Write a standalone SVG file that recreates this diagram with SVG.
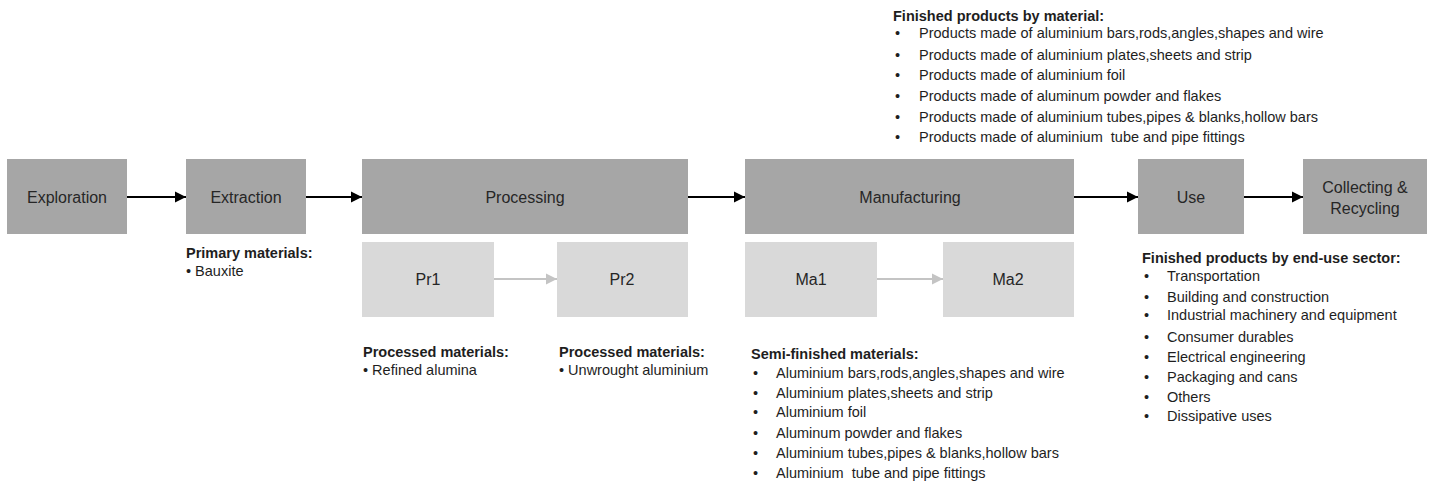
<svg xmlns="http://www.w3.org/2000/svg" width="1429" height="484" viewBox="0 0 1429 484">
<style>
.dk{fill:#a6a6a6}
.lt{fill:#d9d9d9}
.lbl{font-family:"Liberation Sans",Arial,sans-serif;font-size:16px;fill:#262626;text-anchor:middle}
.t{font-family:"Liberation Sans",Arial,sans-serif;font-size:14.5px;fill:#1e1e1e}
.b{font-weight:bold}
.main{stroke:#000;stroke-width:2;fill:none}
.sub{stroke:#c4c4c4;stroke-width:2;fill:none}
</style>
<defs>
<marker id="ah" markerUnits="userSpaceOnUse" markerWidth="12" markerHeight="12" refX="11" refY="6" orient="auto">
<path d="M0,0.5 L11,6 L0,11.5 Z" fill="#000"/>
</marker>
<marker id="ahl" markerUnits="userSpaceOnUse" markerWidth="12" markerHeight="12" refX="11" refY="6" orient="auto">
<path d="M0,0.5 L11,6 L0,11.5 Z" fill="#c4c4c4"/>
</marker>
</defs>
<rect width="1429" height="484" fill="#fff"/>
<g id="connectors">
<line class="main" x1="127" y1="197" x2="186" y2="197" marker-end="url(#ah)"/>
<line class="main" x1="306" y1="197" x2="362" y2="197" marker-end="url(#ah)"/>
<line class="main" x1="688" y1="197" x2="745" y2="197" marker-end="url(#ah)"/>
<line class="main" x1="1074" y1="197" x2="1138" y2="197" marker-end="url(#ah)"/>
<line class="main" x1="1244" y1="197" x2="1303" y2="197" marker-end="url(#ah)"/>
<line class="sub" x1="494" y1="279" x2="557" y2="279" marker-end="url(#ahl)"/>
<line class="sub" x1="877" y1="279" x2="943" y2="279" marker-end="url(#ahl)"/>
</g>
<g id="exploration"><rect class="dk" x="7" y="159" width="120" height="75"/><text class="lbl" x="67" y="203">Exploration</text></g>
<g id="extraction"><rect class="dk" x="186" y="159" width="120" height="75"/><text class="lbl" x="246" y="203">Extraction</text></g>
<g id="processing"><rect class="dk" x="362" y="159" width="326" height="75"/><text class="lbl" x="525" y="203">Processing</text></g>
<g id="manufacturing"><rect class="dk" x="745" y="159" width="329" height="75"/><text class="lbl" x="910" y="203">Manufacturing</text></g>
<g id="use"><rect class="dk" x="1138" y="159" width="106" height="75"/><text class="lbl" x="1191" y="203">Use</text></g>
<g id="recycling"><rect class="dk" x="1303" y="159" width="124" height="75"/><text class="lbl" x="1365" y="193">Collecting &amp;</text><text class="lbl" x="1365" y="214">Recycling</text></g>
<g id="pr1"><rect class="lt" x="362" y="242" width="132" height="75"/><text class="lbl" x="428" y="285">Pr1</text></g>
<g id="pr2"><rect class="lt" x="557" y="242" width="131" height="75"/><text class="lbl" x="622" y="285">Pr2</text></g>
<g id="ma1"><rect class="lt" x="745" y="242" width="132" height="75"/><text class="lbl" x="811" y="285">Ma1</text></g>
<g id="ma2"><rect class="lt" x="943" y="242" width="131" height="75"/><text class="lbl" x="1008" y="285">Ma2</text></g>
<g id="primary-materials">
<text class="t b" x="186" y="258">Primary materials:</text>
<text class="t" x="186" y="276">• Bauxite</text>
</g>
<g id="processed-materials-1">
<text class="t b" x="363" y="357">Processed materials:</text>
<text class="t" x="363" y="375">• Refined alumina</text>
</g>
<g id="processed-materials-2">
<text class="t b" x="559" y="357">Processed materials:</text>
<text class="t" x="559" y="375">• Unwrought aluminium</text>
</g>
<g id="semi-finished">
<text class="t b" x="751" y="359">Semi-finished materials:</text>
<text class="t"><tspan x="753" y="378">•</tspan><tspan x="776" y="378">Aluminium bars,rods,angles,shapes and wire</tspan></text>
<text class="t"><tspan x="753" y="398">•</tspan><tspan x="776" y="398">Aluminium plates,sheets and strip</tspan></text>
<text class="t"><tspan x="753" y="417">•</tspan><tspan x="776" y="417">Aluminium foil</tspan></text>
<text class="t"><tspan x="753" y="438">•</tspan><tspan x="776" y="438">Aluminum powder and flakes</tspan></text>
<text class="t"><tspan x="753" y="458">•</tspan><tspan x="776" y="458">Aluminium tubes,pipes &amp; blanks,hollow bars</tspan></text>
<text class="t"><tspan x="753" y="478">•</tspan><tspan x="776" y="478" xml:space="preserve">Aluminium  tube and pipe fittings</tspan></text>
</g>
<g id="finished-by-material">
<text class="t b" x="893" y="21">Finished products by material:</text>
<text class="t"><tspan x="895" y="38">•</tspan><tspan x="919" y="38">Products made of aluminium bars,rods,angles,shapes and wire</tspan></text>
<text class="t"><tspan x="895" y="60">•</tspan><tspan x="919" y="60">Products made of aluminium plates,sheets and strip</tspan></text>
<text class="t"><tspan x="895" y="80">•</tspan><tspan x="919" y="80">Products made of aluminium foil</tspan></text>
<text class="t"><tspan x="895" y="101">•</tspan><tspan x="919" y="101">Products made of aluminum powder and flakes</tspan></text>
<text class="t"><tspan x="895" y="122">•</tspan><tspan x="919" y="122">Products made of aluminium tubes,pipes &amp; blanks,hollow bars</tspan></text>
<text class="t"><tspan x="895" y="142">•</tspan><tspan x="919" y="142" xml:space="preserve">Products made of aluminium  tube and pipe fittings</tspan></text>
</g>
<g id="finished-by-sector">
<text class="t b" x="1142" y="263">Finished products by end-use sector:</text>
<text class="t"><tspan x="1144" y="281">•</tspan><tspan x="1167" y="281">Transportation</tspan></text>
<text class="t"><tspan x="1144" y="302">•</tspan><tspan x="1167" y="302">Building and construction</tspan></text>
<text class="t"><tspan x="1144" y="320">•</tspan><tspan x="1167" y="320">Industrial machinery and equipment</tspan></text>
<text class="t"><tspan x="1144" y="342">•</tspan><tspan x="1167" y="342">Consumer durables</tspan></text>
<text class="t"><tspan x="1144" y="362">•</tspan><tspan x="1167" y="362">Electrical engineering</tspan></text>
<text class="t"><tspan x="1144" y="382">•</tspan><tspan x="1167" y="382">Packaging and cans</tspan></text>
<text class="t"><tspan x="1144" y="402">•</tspan><tspan x="1167" y="402">Others</tspan></text>
<text class="t"><tspan x="1144" y="421">•</tspan><tspan x="1167" y="421">Dissipative uses</tspan></text>
</g>
</svg>
